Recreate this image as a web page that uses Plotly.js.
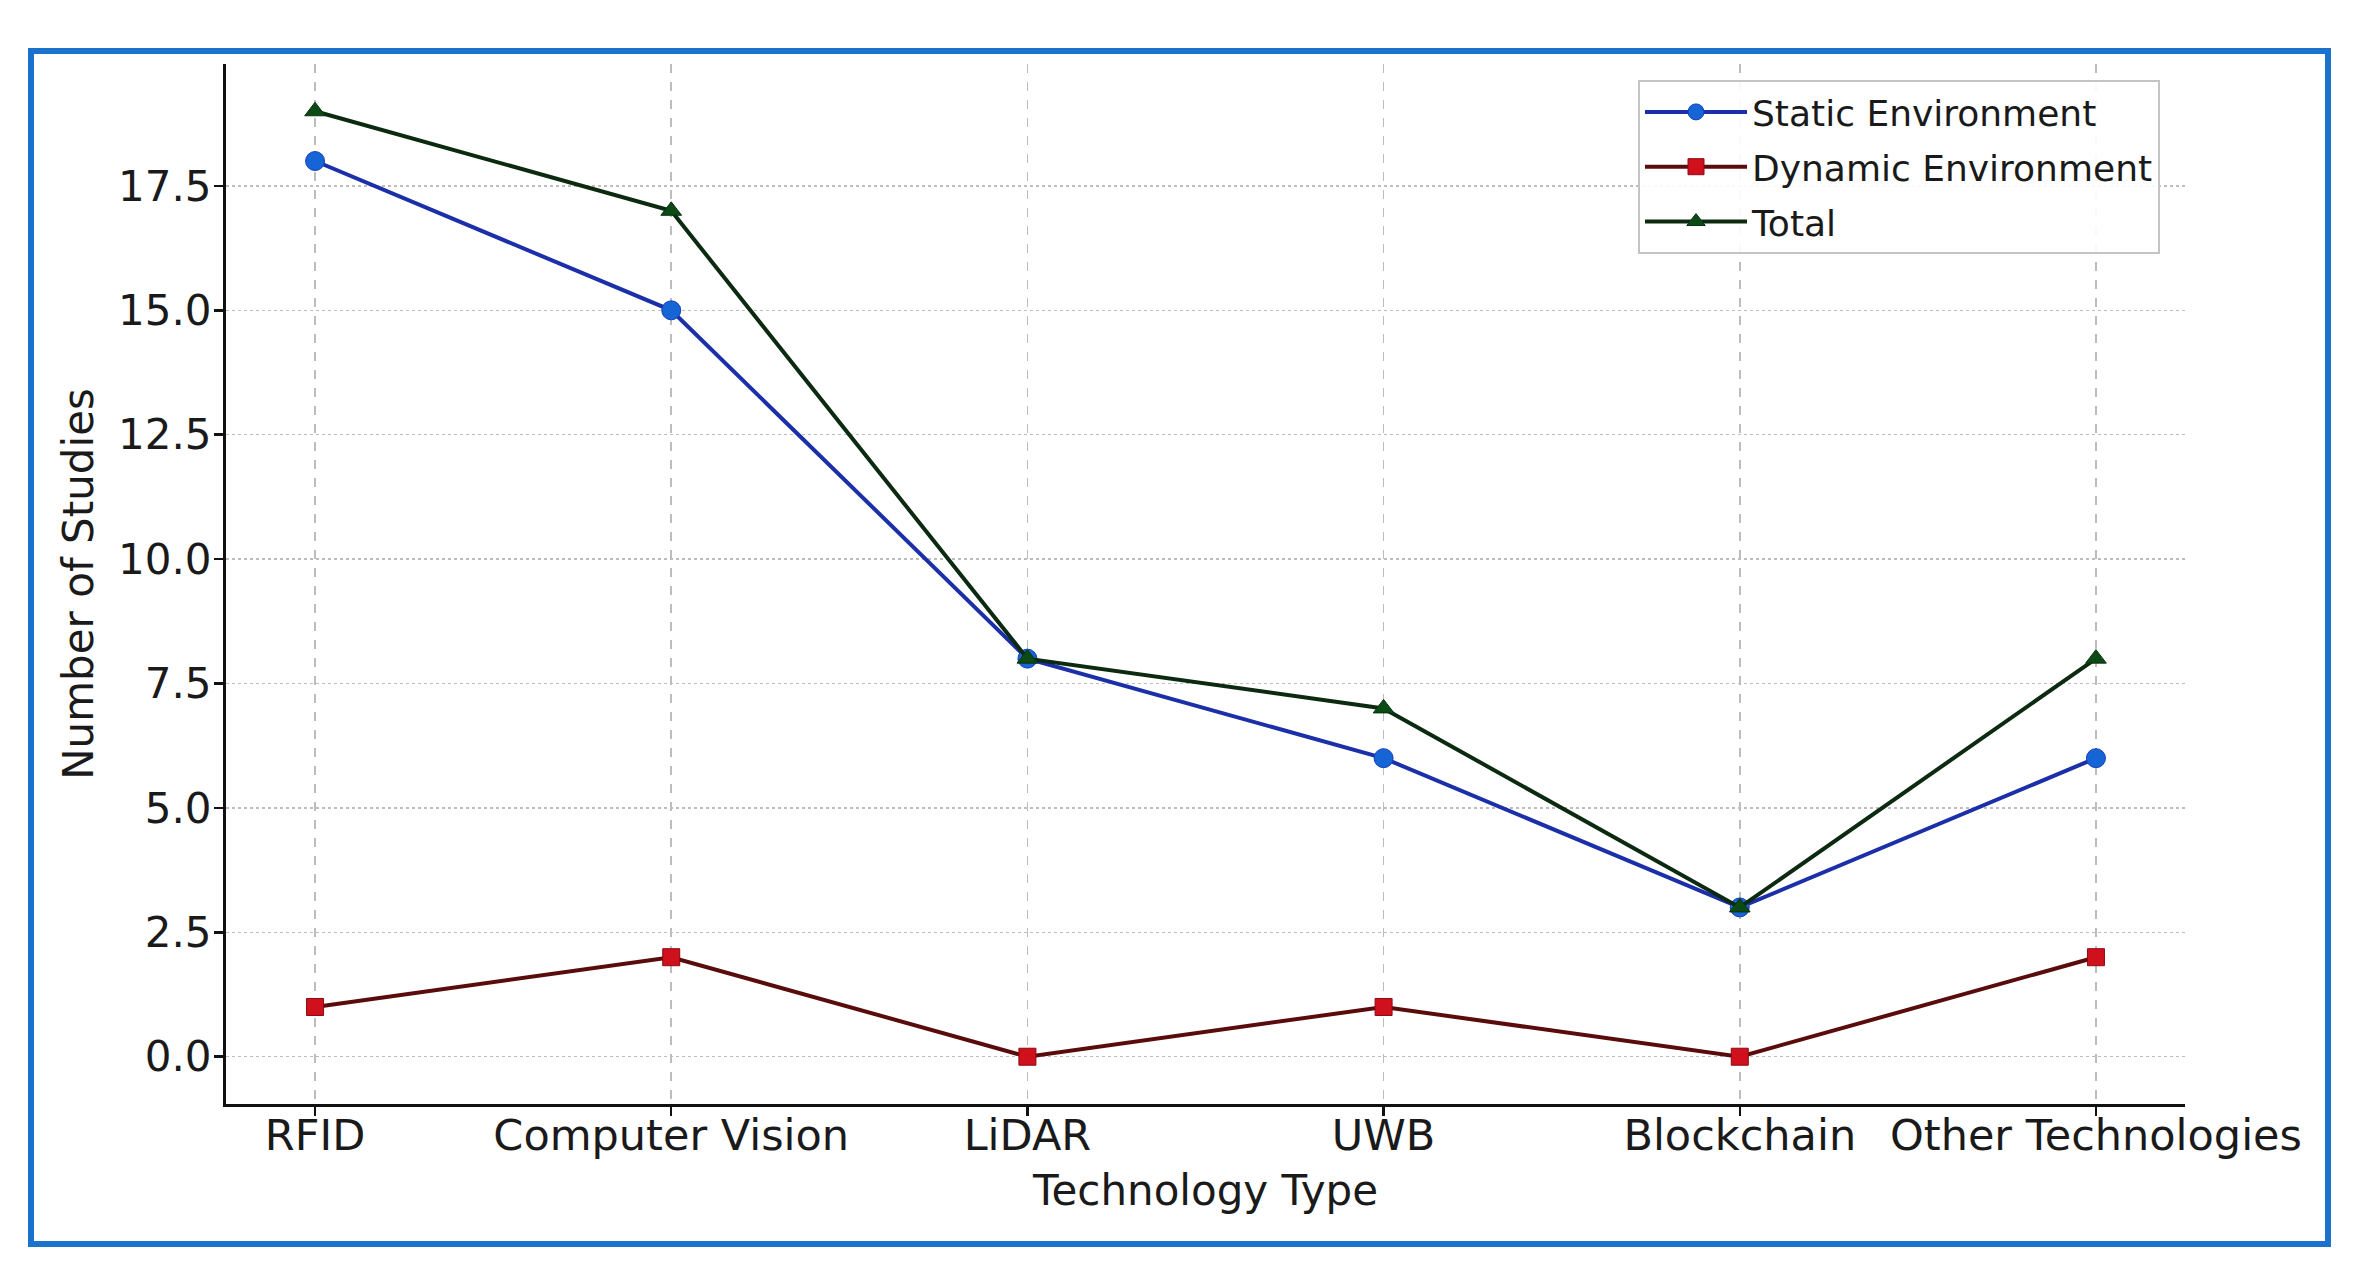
<!DOCTYPE html>
<html>
<head>
<meta charset="utf-8">
<script src="https://cdn.plot.ly/plotly-3.0.1.min.js"></script>
<style>
  html, body { margin: 0; padding: 0; background: #ffffff; }
  #chart { width: 2374px; height: 1279px; }
</style>
</head>
<body>
<div id="chart"></div>
<script>
// Technology types on the x axis
const technologies = ["RFID", "Computer Vision", "LiDAR", "UWB", "Blockchain", "Other Technologies"];

// Number of studies per technology
const staticEnv  = [18, 15, 8, 6, 3, 6];
const dynamicEnv = [1, 2, 0, 1, 0, 2];
const totalStudies = [19, 17, 8, 7, 3, 8];

const yTicks = [0, 2.5, 5, 7.5, 10, 12.5, 15, 17.5];

const W = 2374, H = 1279;
const M = { l: 226, r: 189, t: 64, b: 175 };
const plotW = W - M.l - M.r, plotH = H - M.t - M.b;
// pixel -> paper helpers for the framing rectangle and legend anchor
const px = x => (x - M.l) / plotW;
const py = y => 1 - (y - M.t) / plotH;

const FONT = "DejaVu Sans, Liberation Sans, sans-serif";

const traces = [
  {
    x: technologies, y: staticEnv, name: "Static Environment",
    type: "scatter", mode: "lines+markers", legendgroup: "a",
    line: { color: "#1b2fa8", width: 4 },
    marker: { symbol: "circle", size: 19, color: "#1565d6", line: { color: "#1b3fb8", width: 1 } }
  },
  {
    x: technologies, y: dynamicEnv, name: "Dynamic Environment",
    type: "scatter", mode: "lines+markers", legendgroup: "b",
    line: { color: "#5a0c0c", width: 4 },
    marker: { symbol: "square", size: 17, color: "#d0101c", line: { color: "#8a0a10", width: 1 } }
  },
  {
    x: technologies, y: totalStudies, name: "Total",
    type: "scatter", mode: "lines+markers", legendgroup: "c",
    line: { color: "#0c2a10", width: 4 },
    marker: { symbol: "triangle-up", size: 18, color: "#0b4a14", line: { color: "#0a3010", width: 1 } }
  }
];

const layout = {
  width: W, height: H,
  margin: M,
  paper_bgcolor: "#ffffff",
  plot_bgcolor: "#ffffff",
  font: { family: FONT, color: "#1a1a1a", size: 42 },
  showlegend: true,
  legend: {
    x: px(1638), y: py(80), xanchor: "left", yanchor: "top",
    bgcolor: "rgba(255,255,255,0.9)",
    bordercolor: "#c4c4c4", borderwidth: 2,
    font: { family: FONT, size: 36, color: "#1a1a1a" },
    tracegroupgap: 5,
    itemwidth: 102
  },
  xaxis: {
    type: "category",
    range: [-0.25, 5.25],
    showline: true, linecolor: "#111111", linewidth: 3, mirror: false,
    ticks: "outside", ticklen: 9, tickwidth: 2.5, tickcolor: "#111111",
    ticklabelstandoff: -18,
    showgrid: true, gridcolor: "#bdbdbd", gridwidth: 1.5, griddash: "dash",
    zeroline: false,
    tickfont: { family: FONT, size: 43, color: "#1a1a1a" },
    title: { text: "Technology Type", font: { family: FONT, size: 42, color: "#1a1a1a" }, standoff: 18 }
  },
  yaxis: {
    range: [-0.95, 19.95],
    tickmode: "array", tickvals: yTicks,
    ticktext: yTicks.map(v => v.toFixed(1)),
    showline: true, linecolor: "#111111", linewidth: 3, mirror: false,
    ticks: "outside", ticklen: 9, tickwidth: 2.5, tickcolor: "#111111",
    ticklabelstandoff: -6,
    showgrid: true, gridcolor: "#bdbdbd", gridwidth: 1.5, griddash: "dot",
    zeroline: false,
    tickfont: { family: FONT, size: 42, color: "#1a1a1a" },
    title: { text: "Number of Studies", font: { family: FONT, size: 42, color: "#1a1a1a" }, standoff: 12 }
  },
  shapes: [
    {
      type: "rect", xref: "paper", yref: "paper", layer: "above",
      x0: px(31), x1: px(2328), y0: py(1244), y1: py(51),
      line: { color: "#1b72cc", width: 6 }, fillcolor: "rgba(0,0,0,0)"
    }
  ]
};

Plotly.newPlot("chart", traces, layout, { staticPlot: true, displayModeBar: false });
</script>
</body>
</html>
